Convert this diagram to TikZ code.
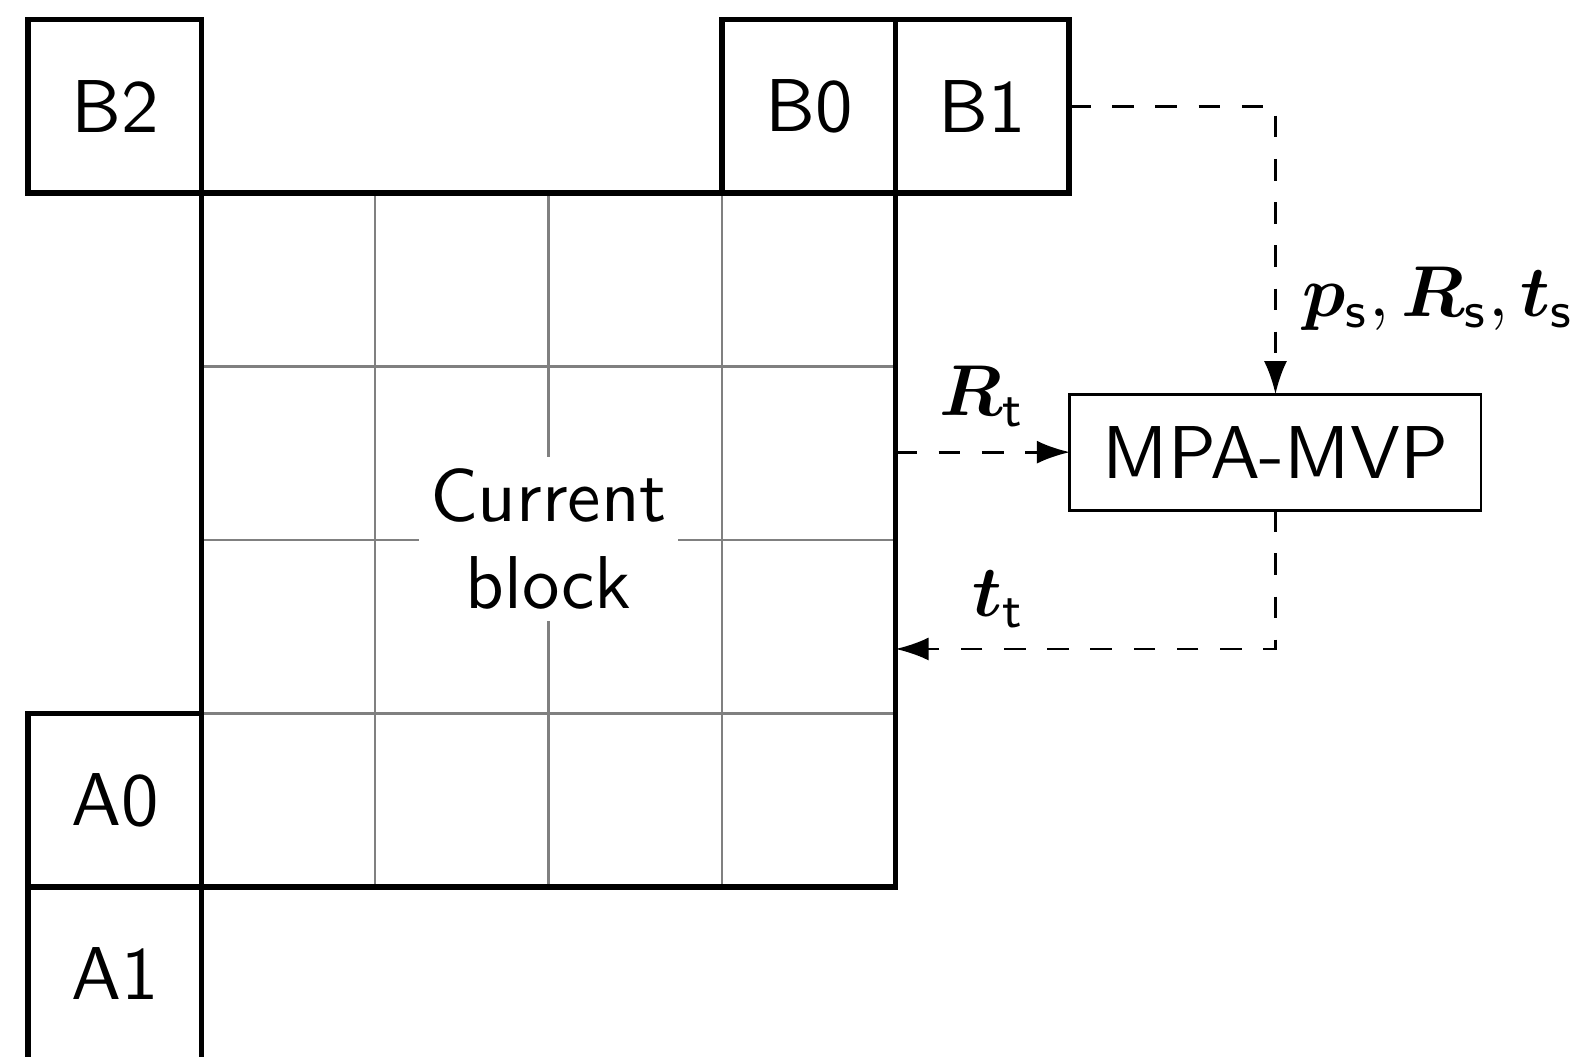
\documentclass[tikz,border=0pt]{standalone}
\usepackage{bm}
\usetikzlibrary{arrows.meta}
\begin{document}
\begin{tikzpicture}[x=0.13889pt,y=-0.13889pt,font=\fontsize{10.4pt}{12.2pt}\selectfont\sffamily,
  cellbox/.style={draw,line width=0.75pt,minimum size=24.097pt,inner sep=0pt,outer sep=0pt},
  frame/.style={draw,line width=0.75pt,minimum size=96.39pt,inner sep=0pt,outer sep=0pt},
  gridline/.style={black!50,line width=0.4pt},
  flow/.style={dashed,line width=0.4pt,-{Latex[length=4.6pt,width=3.2pt]}},
  proc/.style={draw,line width=0.4pt,minimum width=57.1pt,minimum height=16.1pt,inner sep=0pt,outer sep=0pt}]
\useasboundingbox (0,0) rectangle (1588,1057);
% inner grid
\foreach \x in {375,548.5,722} \draw[gridline] (\x,193) -- (\x,887);
\foreach \y in {366.5,540,713.5} \draw[gridline] (201.5,\y) -- (895.5,\y);
\node[fill=white,align=center,inner sep=1.5pt] (txt) at (548.5,539) {Current\\block};
% current block frame
\node[frame] (cur) at (548.5,540) {};
% neighbour blocks
\node[cellbox] (B2) at (114.75,106.25) {B2};
\node[cellbox] (B0) at (808.75,106.25) {B0};
\node[cellbox] (B1) at (982.25,106.25) {B1};
\node[cellbox] (A0) at (114.75,800.25) {A0};
\node[cellbox] (A1) at (114.75,973.75) {A1};
% process
\node[proc] (MPA) at (1275.5,452.2) {MPA-MVP};
\coordinate (tin) at (895.5,649);
% connectors
\draw[flow] (B1.east) -| (MPA.north);
\draw[flow] (cur.east |- MPA.west) -- (MPA.west);
\draw[flow] (MPA.south) |- (tin);
% labels
\node[anchor=base west,inner sep=0pt] (ps) at (1301,317) {$\bm{p}_{\mathsf{s}}, \bm{R}_{\mathsf{s}}, \bm{t}_{\mathsf{s}}$};
\node[anchor=base,inner sep=0pt] (Rt) at (982.5,416) {$\bm{R}_{\mathsf{t}}$};
\node[anchor=base,inner sep=0pt] (tt) at (999,617) {$\bm{t}_{\mathsf{t}}$};
\end{tikzpicture}
\end{document}
